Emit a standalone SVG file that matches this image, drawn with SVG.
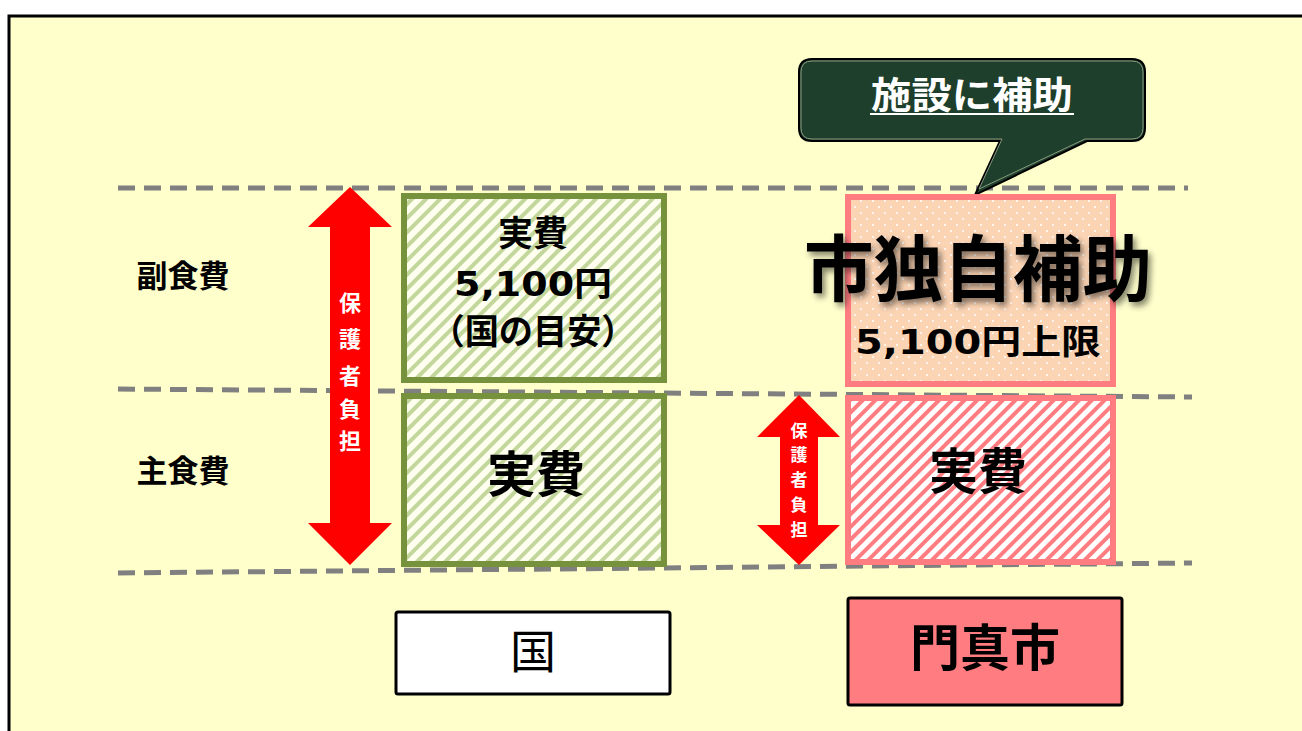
<svg xmlns="http://www.w3.org/2000/svg" width="1302" height="731" viewBox="0 0 1302 731">
<style>
.jp{font-family:"Noto Sans CJK JP","Noto Sans CJK SC",sans-serif;font-weight:bold;text-anchor:middle}
.num{font-family:"DejaVu Sans","Noto Sans CJK JP",sans-serif;font-weight:bold;text-anchor:middle}
.dash{stroke:#808080;stroke-width:5;stroke-dasharray:17 9;fill:none}
</style>
<defs>
<pattern id="gh" patternUnits="userSpaceOnUse" width="10" height="10" patternTransform="rotate(45)">
<rect width="10" height="10" fill="#FFFFF0"/>
<rect width="4" height="10" fill="#C3D69B"/>
</pattern>
<pattern id="rh" patternUnits="userSpaceOnUse" width="9" height="9" patternTransform="rotate(45)">
<rect width="9" height="9" fill="#FFFFFF"/>
<rect width="4" height="9" fill="#FF7C80"/>
</pattern>
<pattern id="dots" patternUnits="userSpaceOnUse" width="12" height="12">
<rect width="12" height="12" fill="#FBD4B4"/>
<circle cx="3" cy="3" r="1" fill="#FFFFFF"/>
<circle cx="9" cy="9" r="1" fill="#FFFFFF"/>
</pattern>
<filter id="sh" x="-10%" y="-20%" width="130%" height="150%">
<feGaussianBlur in="SourceAlpha" stdDeviation="3"/>
<feOffset dx="3" dy="4"/>
<feComponentTransfer><feFuncA type="linear" slope="0.5"/></feComponentTransfer>
<feMerge><feMergeNode/><feMergeNode in="SourceGraphic"/></feMerge>
</filter>
</defs>
<rect x="0" y="0" width="1302" height="731" fill="#FFFFFF"/>
<rect id="frame" x="9" y="16" width="1310" height="730" fill="#FFFFCC" stroke="#000" stroke-width="3"/>

<g id="connectors">
<line class="dash" x1="118" y1="188" x2="1188" y2="188"/>
<line class="dash" x1="118" y1="389" x2="1192" y2="397"/>
<line class="dash" x1="118" y1="573" x2="1192" y2="563"/>
</g>

<g id="label-fuku"><text class="jp" x="183" y="287" font-size="31">副食費</text></g>
<g id="label-shu"><text class="jp" x="183" y="482" font-size="31">主食費</text></g>

<g id="arrow-left">
<polygon points="350,187 392,227 370,227 370,523 392,523 350,565 308,523 330,523 330,227 308,227" fill="#FF0000"/>
<text class="jp" font-size="22" fill="#FFFFFF">
<tspan x="350" y="311">保</tspan><tspan x="350" y="347">護</tspan><tspan x="350" y="384">者</tspan><tspan x="350" y="417">負</tspan><tspan x="350" y="449">担</tspan>
</text>
</g>

<g id="kuni-top">
<rect x="404" y="196" width="260" height="184" fill="url(#gh)" stroke="#76923C" stroke-width="6"/>
<text class="jp" x="533" y="246" font-size="35">実費</text>
<text class="num" x="533" y="296" font-size="34" textLength="158" lengthAdjust="spacingAndGlyphs">5,100円</text>
<text class="jp" x="533" y="344" font-size="35" textLength="205" lengthAdjust="spacingAndGlyphs">（国の目安）</text>
</g>
<g id="kuni-bottom">
<rect x="404" y="396" width="260" height="168" fill="url(#gh)" stroke="#76923C" stroke-width="6"/>
<text class="jp" x="536" y="492" font-size="49">実費</text>
</g>

<g id="callout">
<path d="M812,59 H1132 Q1145,59 1145,72 V128 Q1145,141 1132,141 H1087 L975,195 L1000,141 H812 Q799,141 799,128 V72 Q799,59 812,59 Z" fill="#1E3F2B" stroke="#000" stroke-width="2"/>
<path d="M812,61 H1132 Q1143,61 1143,72 V128 Q1143,139 1132,139 H1085 L979,189 L1002,139 H812 Q801,139 801,128 V72 Q801,61 812,61 Z" fill="none" stroke="#8A9A80" stroke-width="1"/>
<text class="jp" x="972" y="109" font-size="37" fill="#FFFFFF" textLength="202" lengthAdjust="spacingAndGlyphs">施設に補助</text>
<line x1="870" y1="114" x2="1074" y2="114" stroke="#FFFFFF" stroke-width="2"/>
</g>

<g id="city-top">
<rect x="848" y="197" width="265" height="187" fill="url(#dots)" stroke="#FF7C80" stroke-width="6"/>
<text class="jp" x="978" y="295" font-size="72" filter="url(#sh)" textLength="348" lengthAdjust="spacingAndGlyphs">市独自補助</text>
<text class="num" x="978" y="354" font-size="34" textLength="246" lengthAdjust="spacingAndGlyphs">5,100円上限</text>
</g>
<g id="city-bottom">
<rect x="848" y="398" width="265" height="164" fill="url(#rh)" stroke="#FF7C80" stroke-width="6"/>
<text class="jp" x="978" y="489" font-size="49">実費</text>
</g>

<g id="arrow-right">
<polygon points="799,395 840,437 818,437 818,525 840,525 799,565 757,525 780,525 780,437 757,437" fill="#FF0000"/>
<text class="jp" font-size="17" fill="#FFFFFF">
<tspan x="799" y="437">保</tspan><tspan x="799" y="461">護</tspan><tspan x="799" y="486">者</tspan><tspan x="799" y="511">負</tspan><tspan x="799" y="536">担</tspan>
</text>
</g>

<g id="box-kuni">
<rect x="396" y="612" width="274" height="82" rx="2" fill="#FFFFFF" stroke="#000" stroke-width="3"/>
<text x="533" y="668" font-size="46" text-anchor="middle" font-family="Noto Sans CJK JP,sans-serif">国</text>
</g>
<g id="box-kadoma">
<rect x="848" y="598" width="274" height="107" rx="2" fill="#FF7C80" stroke="#000" stroke-width="3"/>
<text class="jp" x="985" y="666" font-size="50">門真市</text>
</g>
</svg>
